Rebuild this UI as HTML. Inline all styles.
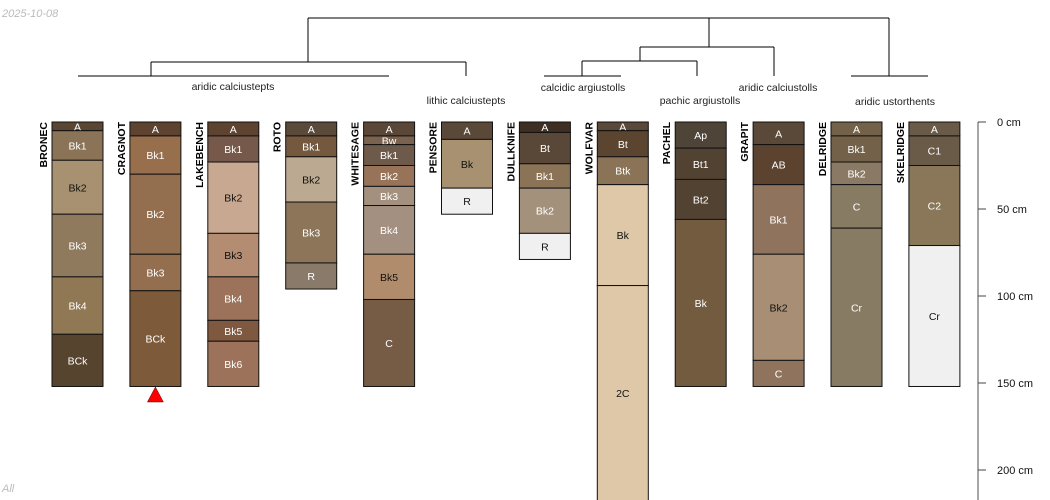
<!DOCTYPE html>
<html><head><meta charset="utf-8"><style>
body{margin:0;background:#fff;}
svg{display:block;font-family:"Liberation Sans",sans-serif;}
</style></head><body>
<svg id="chart" width="1050" height="500">
<text x="2" y="17" font-size="11" fill="#bbb" font-style="italic">2025-10-08</text>
<text x="2" y="492" font-size="11" fill="#bbb" font-style="italic">All</text>
<g id="dendro" stroke="#000" stroke-width="1" fill="none">
<path d="M308,18H889M308,18V62M889,18V76M151,62H466M151,62V76M466,62V76M78,76H389M709,18V47M640,47H774M640,47V61M774,47V76M582,61H697M582,61V76M697,61V76M544,76H621M851,76H928"/>
</g>
<g font-size="10.5" fill="#222" text-anchor="middle">
<text x="233" y="90">aridic calciustepts</text>
<text x="466" y="104">lithic calciustepts</text>
<text x="583" y="91">calcidic argiustolls</text>
<text x="700" y="104">pachic argiustolls</text>
<text x="778" y="91">aridic calciustolls</text>
<text x="895" y="105">aridic ustorthents</text>
</g>
<g id="profiles"></g>
<g id="axis"></g>
</svg>
<script>
const profileNames=["BRONEC","CRAGNOT","LAKEBENCH","ROTO","WHITESAGE","PENSORE","DULLKNIFE","WOLFVAR","PACHEL","GRAPIT","DELRIDGE","SKELRIDGE"];
const horizonNames=[
["A","Bk1","Bk2","Bk3","Bk4","BCk"],
["A","Bk1","Bk2","Bk3","BCk"],
["A","Bk1","Bk2","Bk3","Bk4","Bk5","Bk6"],
["A","Bk1","Bk2","Bk3","R"],
["A","Bw","Bk1","Bk2","Bk3","Bk4","Bk5","C"],
["A","Bk","R"],
["A","Bt","Bk1","Bk2","R"],
["A","Bt","Btk","Bk","2C"],
["Ap","Bt1","Bt2","Bk"],
["A","AB","Bk1","Bk2","C"],
["A","Bk1","Bk2","C","Cr"],
["A","C1","C2","Cr"]];
const horizonBottoms=[
[5,22,53,89,122,152],
[8,30,76,97,152],
[8,23,64,89,114,126,152],
[8,20,46,81,96],
[8,13,25,37,48,76,102,152],
[10,38,53],
[6,24,38,64,79],
[5,20,36,94,240],
[15,33,56,152],
[13,36,76,137,152],
[8,23,36,61,152],
[8,25,71,152]];
const horizonColors=[
["#5a4633","#8b7358","#a89171","#8f7a5e","#917854","#56442f"],
["#5e4430","#986f4d","#946f4f","#946f4f","#7d5a3a"],
["#5e4430","#76594a","#c8a890","#b38c72","#9c735a","#7f5840","#9c735a"],
["#5a4a3a","#75593f","#bca992","#8c7559","#8a7a6a"],
["#5b4738","#7a6250","#6e5a4a","#977459","#a4907f","#a49080","#b08c6c","#765b45"],
["#5a4838","#a89171","#f0f0f0"],
["#3e2f22","#594838","#8b7358","#a4917c","#f0f0f0"],
["#5a4838","#5c4530","#8b7358","#dfc8a8","#dfc8a8"],
["#4e4438","#524232","#524232","#735b40"],
["#5a4838","#5c4330","#8f735d","#a88e75","#8f735d"],
["#736149","#736149","#8a7a65","#877b63","#877b63"],
["#6a5a48","#6a5a48","#8a7658","#f0f0f0"]];
const darkText=[[2],[],[2,3],[2],[6],[1,2],[4],[3,4],[],[3],[],[3]];
const axisTicks=[0,50,100,150,200];
const NS="http://www.w3.org/2000/svg";
const top0=122,pxPerCm=1.74,maxY=500;
const yS=d=>Math.min(maxY+2,top0+d*pxPerCm);
const xS=i=>52+i*77.9;
const W=51;
const g=document.getElementById('profiles');
function mk(t,a,p){const e=document.createElementNS(NS,t);for(const k in a)e.setAttribute(k,a[k]);p.appendChild(e);return e;}
profileNames.forEach((pn,i)=>{
  const pg=mk('g',{},g);
  
  
  const x=xS(i);
  let prev=0;
  horizonNames[i].forEach((hn,j)=>{
    const b=horizonBottoms[i][j];
    const y0=yS(prev),y1=yS(b);
    const r=mk('rect',{x:x,y:y0,width:W,height:y1-y0,fill:horizonColors[i][j],stroke:'#111','stroke-width':1},pg);
    
    
    const ty=Math.min((y0+y1)/2, (y0+Math.min(y1,maxY))/2)+4;
    const t=mk('text',{x:x+W/2,y:ty,'font-size':10.5,'text-anchor':'middle',fill:darkText[i].includes(j)?'#111':'#fff'},pg);
    t.textContent=hn;
    
    
    prev=b;
  });
  const nt=mk('text',{transform:`translate(${x-5},${top0}) rotate(-90)`,'font-size':10.5,'font-weight':'bold','text-anchor':'end',fill:'#000'},pg);
  nt.textContent=pn;
  
  
});
// truncation marker under CRAGNOT
const tri=mk('polygon',{points:`${xS(1)+W/2},387 ${xS(1)+W/2-8},402 ${xS(1)+W/2+8},402`,fill:'#f00',stroke:'#600','stroke-width':0.5},g);


const ax=document.getElementById('axis');
const al=mk('line',{x1:978,y1:top0,x2:978,y2:500,stroke:'#888','stroke-width':1.5},ax);


axisTicks.forEach(v=>{
  const y=yS(v);
  const tk=mk('line',{x1:978,y1:y,x2:986,y2:y,stroke:'#444','stroke-width':1},ax);
  
  
  const tl=mk('text',{x:997,y:y+4,'font-size':11,fill:'#111'},ax);
  tl.textContent=v+' cm';
  
  
});
</script>
</body></html>
